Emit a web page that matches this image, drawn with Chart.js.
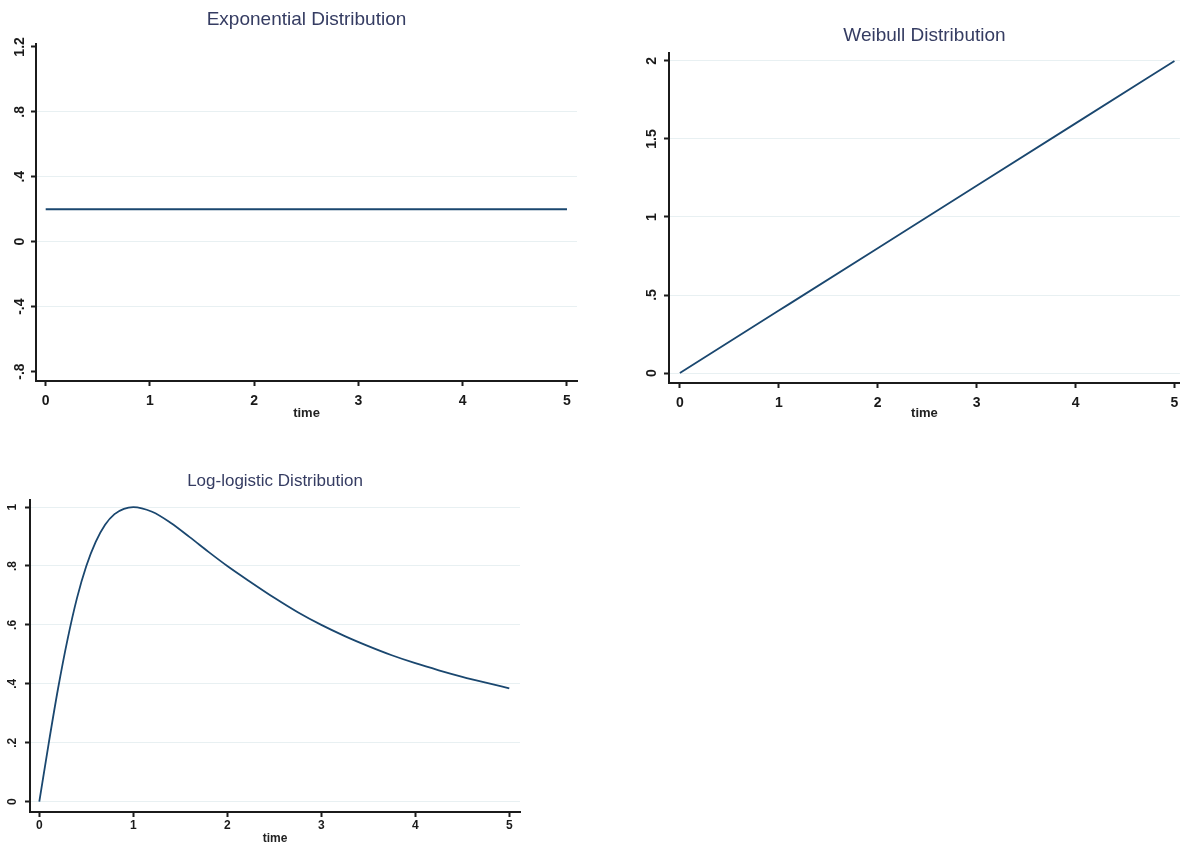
<!DOCTYPE html>
<html>
<head>
<meta charset="utf-8">
<title>Hazard functions</title>
<script src="https://cdn.jsdelivr.net/npm/chart.js@4.4.1/dist/chart.umd.min.js"></script>
<style>
  html, body { margin: 0; padding: 0; background: #fff; }
  body { width: 1185px; height: 846px; position: relative; overflow: hidden; }
  canvas { position: absolute; }
</style>
</head>
<body>
<canvas id="expChart" width="600" height="430" style="left:0;top:0"></canvas>
<canvas id="weibullChart" width="585" height="430" style="left:600px;top:0"></canvas>
<canvas id="loglogChart" width="540" height="386" style="left:0;top:460px"></canvas>
<script>
// ---- data ----
var timeTicks = [0, 1, 2, 3, 4, 5];

var expTime = [0, 5];
var expHazard = [0.2, 0.2];
var expYTicks = [-0.8, -0.4, 0, 0.4, 0.8, 1.2];

var weibullTime = [0, 1, 2, 3, 4, 5];
var weibullHazard = [0, 0.4, 0.8, 1.2, 1.6, 2];
var weibullYTicks = [0, 0.5, 1, 1.5, 2];

var loglogTime = [0, 0.1, 0.2, 0.3, 0.4, 0.5, 0.6, 0.7, 0.8, 0.9, 1.0, 1.2, 1.4, 1.6, 1.8, 2.0,
                  2.25, 2.5, 2.75, 3.0, 3.25, 3.5, 3.75, 4.0, 4.25, 4.5, 4.75, 5.0];
var loglogHazard = [0, 0.198, 0.385, 0.55, 0.69, 0.8, 0.882, 0.94, 0.976, 0.994, 1.0, 0.984, 0.946, 0.898, 0.848, 0.8,
                    0.745, 0.692, 0.643, 0.6, 0.562, 0.528, 0.497, 0.47, 0.446, 0.424, 0.404, 0.385];
var loglogYTicks = [0, 0.2, 0.4, 0.6, 0.8, 1];

var lineColor = '#1a476f';
var gridColor = '#e8f0f2';
var titleColor = '#353c62';
var fontFamily = '"Liberation Sans", Arial, sans-serif';

// stata style labels: .4 instead of 0.4
function stataLabel(v) {
    var s = String(+v.toFixed(2));
    return s.replace(/^0\./, '.').replace(/^-0\./, '-.');
}

function points(xs, ys) {
    return xs.map(function (x, i) { return { x: x, y: ys[i] }; });
}

function makeConfig(p) {
    return {
        type: 'line',
        data: {
            datasets: [{
                data: points(p.xs, p.ys),
                borderColor: lineColor,
                borderWidth: 1.8,
                pointRadius: 0,
                fill: false,
                cubicInterpolationMode: 'monotone'
            }]
        },
        options: {
            responsive: false,
            animation: false,
            devicePixelRatio: 1,
            layout: {
                autoPadding: false,
                padding: { left: 0, right: p.padRight, top: 0, bottom: 0 }
            },
            plugins: {
                legend: { display: false },
                tooltip: { enabled: false },
                title: {
                    display: true,
                    text: p.title,
                    fullSize: false,
                    color: titleColor,
                    font: { family: fontFamily, size: p.titleSize, weight: 'normal' },
                    padding: { top: p.titleTop, bottom: p.titleBottom }
                }
            },
            scales: {
                x: {
                    type: 'linear',
                    min: p.xMin,
                    max: p.xMax,
                    afterBuildTicks: function (scale) {
                        scale.ticks = timeTicks.map(function (v) { return { value: v }; });
                    },
                    afterFit: function (scale) { scale.height = p.xHeight; },
                    border: { display: true, color: '#1b1b1b', width: 2 },
                    grid: {
                        drawOnChartArea: false,
                        drawTicks: true,
                        tickLength: 5,
                        tickWidth: 2,
                        tickColor: '#1b1b1b'
                    },
                    ticks: {
                        color: '#1a1a1a',
                        padding: p.xTickPad,
                        maxRotation: 0,
                        font: { family: fontFamily, size: p.tickSize, weight: 'bold' },
                        callback: function (v) { return stataLabel(v); }
                    },
                    title: {
                        display: true,
                        text: 'time',
                        color: '#222',
                        font: { family: fontFamily, size: p.timeSize, weight: 'bold' },
                        padding: { top: 0, bottom: p.timeBottom }
                    }
                },
                y: {
                    type: 'linear',
                    min: p.yMin,
                    max: p.yMax,
                    afterBuildTicks: function (scale) {
                        scale.ticks = p.yTicks.map(function (v) { return { value: v }; });
                    },
                    afterFit: function (scale) { scale.width = p.yWidth; },
                    border: { display: true, color: '#1b1b1b', width: 2 },
                    grid: {
                        drawOnChartArea: true,
                        drawTicks: true,
                        tickLength: 5,
                        tickWidth: 2,
                        tickColor: '#1b1b1b',
                        lineWidth: 1,
                        color: function (ctx) {
                            if (ctx.tick && p.noGrid.indexOf(ctx.tick.value) >= 0) return 'rgba(0,0,0,0)';
                            return gridColor;
                        }
                    },
                    ticks: {
                        color: '#1a1a1a',
                        minRotation: 90,
                        maxRotation: 90,
                        crossAlign: 'center',
                        padding: p.yTickPad,
                        font: { family: fontFamily, size: p.tickSize, weight: 'bold' },
                        callback: function (v) { return stataLabel(v); }
                    }
                }
            }
        }
    };
}

new Chart(document.getElementById('expChart').getContext('2d'), makeConfig({
    title: 'Exponential Distribution', titleSize: 19, titleTop: 8.2, titleBottom: 13,
    xs: expTime, ys: expHazard, yTicks: expYTicks, noGrid: [1.2, -0.8],
    xMin: -0.093, xMax: 5.096, yMin: -0.858, yMax: 1.218,
    padRight: 23, yWidth: 36, xHeight: 49,
    tickSize: 14, xTickPad: 6.6, yTickPad: 1.3, timeSize: 13, timeBottom: 9.2
}));

new Chart(document.getElementById('weibullChart').getContext('2d'), makeConfig({
    title: 'Weibull Distribution', titleSize: 19, titleTop: 24.1, titleBottom: 6.1,
    xs: weibullTime, ys: weibullHazard, yTicks: weibullYTicks, noGrid: [],
    xMin: -0.11, xMax: 5.055, yMin: -0.064, yMax: 2.051,
    padRight: 0, yWidth: 69, xHeight: 47,
    tickSize: 14, xTickPad: 6.6, yTickPad: 2.3, timeSize: 13, timeBottom: 9.2
}));

new Chart(document.getElementById('loglogChart').getContext('2d'), makeConfig({
    title: 'Log-logistic Distribution', titleSize: 17, titleTop: 10.8, titleBottom: 8.8,
    xs: loglogTime, ys: loglogHazard, yTicks: loglogYTicks, noGrid: [],
    xMin: -0.099, xMax: 5.114, yMin: -0.035, yMax: 1.024,
    padRight: 20, yWidth: 30, xHeight: 34,
    tickSize: 12, xTickPad: 1.8, yTickPad: 7.7, timeSize: 12, timeBottom: 0
}));
</script>
</body>
</html>
